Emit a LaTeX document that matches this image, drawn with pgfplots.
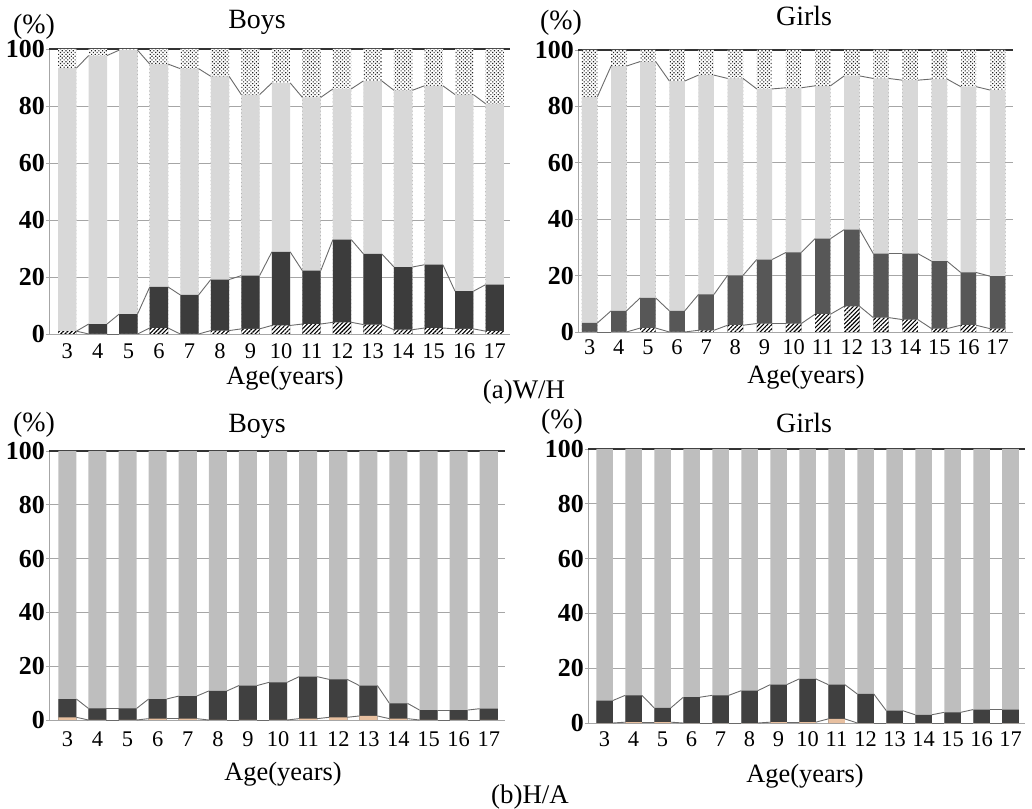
\documentclass[border=0pt]{standalone}
\usepackage{pgfplots}
\usepackage{pgfplotstable}
\pgfplotsset{compat=1.18}
\usetikzlibrary{patterns,patterns.meta}
\usepackage{fontspec}
\setmainfont{Liberation Serif}

\definecolor{axgray}{HTML}{A6A6A6}
\definecolor{lc}{HTML}{6A6A6A}
\definecolor{lgA}{HTML}{D8D8D8}
\definecolor{lgB}{HTML}{BEBEBE}
\definecolor{dkA}{HTML}{3C3C3C}
\definecolor{dkB}{HTML}{575757}
\definecolor{dkC}{HTML}{404040}
\definecolor{peach}{HTML}{E8C0A0}

\newcommand\tf[1]{\fontsize{#1}{#1}\selectfont}

% W/H boys: c1 = top of hatched, c2 = top of dark, c3 = top of light grey
\pgfplotstableread{
x c1 c2 c3
3 1.0 1.0 93.3
4 0 3.5 97.7
5 0 7.0 99.6
6 2.1 16.5 94.7
7 0 13.7 93.1
8 1.2 19.1 90.4
9 1.8 20.5 84.0
10 3.0 28.8 88.1
11 3.5 22.2 83.0
12 4.1 33.1 86.0
13 3.3 28.1 88.8
14 1.5 23.5 85.5
15 2.1 24.3 87.1
16 1.8 15.0 84.0
17 1.0 17.3 80.8
}\tWHb

\pgfplotstableread{
x c1 c2 c3
3 0 3.2 83.4
4 0 7.5 94.3
5 1.4 12.1 95.9
6 0 7.5 89.0
7 0.6 13.3 91.1
8 2.4 20.1 89.9
9 3.0 25.7 86.2
10 3.0 28.2 86.6
11 6.3 33.1 87.3
12 9.1 36.3 90.8
13 5.1 27.8 89.9
14 4.4 27.8 89.3
15 1.2 25.1 89.7
16 2.4 21.1 87.0
17 1.2 19.8 85.8
}\tWHg

\pgfplotstableread{
x c1 c2 c3
3 1.0 7.8 100
4 0 4.3 100
5 0 4.3 100
6 0.5 7.8 100
7 0.5 8.9 100
8 0 10.8 100
9 0 12.8 100
10 0 14.0 100
11 0.5 16.1 100
12 1.0 15.1 100
13 1.5 12.8 100
14 0.5 6.2 100
15 0 3.7 100
16 0 3.7 100
17 0 4.2 100
}\tHAb

\pgfplotstableread{
x c1 c2 c3
3 0 8.2 100
4 0.3 10.1 100
5 0.3 5.5 100
6 0 9.4 100
7 0 10.1 100
8 0 11.8 100
9 0.3 14.0 100
10 0.3 16.1 100
11 1.5 14.0 100
12 0 10.6 100
13 0 4.5 100
14 0 3.0 100
15 0 3.9 100
16 0 4.9 100
17 0 4.9 100
}\tHAg

% series lines joining the tops of a segment from one bar edge to the next
\newcommand\slines[3]{%
  \pgfplotsforeachungrouped \i in {0,...,13}{%
    \pgfmathtruncatemacro\j{\i+1}%
    \pgfplotstablegetelem{\i}{x}\of#1%
    \pgfmathsetmacro\xa{\pgfplotsretval+#3}%
    \pgfplotstablegetelem{\j}{x}\of#1%
    \pgfmathsetmacro\xb{\pgfplotsretval-#3}%
    \pgfplotstablegetelem{\i}{#2}\of#1%
    \let\ya\pgfplotsretval
    \pgfplotstablegetelem{\j}{#2}\of#1%
    \let\yb\pgfplotsretval
    \edef\tmp{\noexpand\addplot[sharp plot,no marks,draw=lc,line width=0.9pt,forget plot] coordinates {(\xa,\ya) (\xb,\yb)};}%
    \tmp
  }%
}

\pgfplotsset{
  panel/.style={
    scale only axis, ybar, bar shift=0pt,
    ymin=0, ymax=100, ytick={0,20,...,100},
    xtick={3,...,17},
    axis x line=bottom, axis y line=left,
    axis line style={-,draw=axgray,line width=0.9pt},
    ymajorgrids, grid style={draw=axgray,line width=0.9pt},
    xtick style={draw=none},
    ytick style={draw=axgray,line width=0.9pt},
    tick align=outside, major tick length=3bp,
    /pgf/number format/assume math mode=true,
    yticklabel style={font=\bfseries\tf{26}, inner sep=1pt},
    xticklabel style={font=\tf{22.5}},
    clip=false,
  },
  hatchbar/.style={fill=white, draw=none, postaction={pattern={Lines[angle=45,distance=3pt,line width=1.1pt]}, pattern color=black}},
  dotbar/.style={fill=white, draw=none, postaction={pattern={Dots[angle=45,distance=2.6pt,radius=0.8pt]}, pattern color=black!85}},
}

\begin{document}
\begin{tikzpicture}
\useasboundingbox (0bp,0bp) rectangle (1032bp,809bp);

% ---------- (a) W/H, Boys ----------
\begin{axis}[panel, at={(49bp,475bp)}, anchor=south west, width=461bp, height=285bp,
  xmin=2.4, xmax=17.5, bar width=0.6, xticklabel style={yshift=-3bp}]
\addplot[sharp plot, draw=black!80, line width=1.2pt, forget plot] coordinates {(2.4,100) (17.5,100)};
\addplot[dotbar] table[x=x, y expr=100] {\tWHb};
\addplot[fill=lgA, draw=none] table[x=x, y=c3] {\tWHb};
\addplot[fill=dkA, draw=none] table[x=x, y=c2] {\tWHb};
\addplot[hatchbar] table[x=x, y=c1] {\tWHb};
\slines{\tWHb}{c1}{0.3}
\slines{\tWHb}{c2}{0.3}
\slines{\tWHb}{c3}{0.3}
\end{axis}

% ---------- (a) W/H, Girls ----------
\begin{axis}[panel, at={(578bp,477bp)}, anchor=south west, width=435bp, height=282bp,
  xmin=2.6, xmax=17.53, bar width=0.53, xticklabel style={yshift=-1bp}]
\addplot[sharp plot, draw=black!80, line width=1.2pt, forget plot] coordinates {(2.6,100) (17.53,100)};
\addplot[dotbar] table[x=x, y expr=100] {\tWHg};
\addplot[fill=lgA, draw=none] table[x=x, y=c3] {\tWHg};
\addplot[fill=dkB, draw=none] table[x=x, y=c2] {\tWHg};
\addplot[hatchbar] table[x=x, y=c1] {\tWHg};
\slines{\tWHg}{c1}{0.265}
\slines{\tWHg}{c2}{0.265}
\slines{\tWHg}{c3}{0.265}
\end{axis}

% ---------- (b) H/A, Boys ----------
\begin{axis}[panel, at={(49bp,89bp)}, anchor=south west, width=456bp, height=269bp,
  xmin=2.39, xmax=17.54, bar width=0.6, xticklabel style={yshift=-5bp}]
\addplot[sharp plot, draw=black!80, line width=1.2pt, forget plot] coordinates {(2.39,100) (17.54,100)};
\addplot[fill=lgB, draw=none] table[x=x, y=c3] {\tHAb};
\addplot[fill=dkC, draw=none] table[x=x, y=c2] {\tHAb};
\addplot[fill=peach, draw=none] table[x=x, y=c1] {\tHAb};
\slines{\tHAb}{c1}{0.3}
\slines{\tHAb}{c2}{0.3}
\end{axis}

% ---------- (b) H/A, Girls ----------
\begin{axis}[panel, at={(588bp,86bp)}, anchor=south west, width=437bp, height=274bp,
  xmin=2.43, xmax=17.5, bar width=0.57, xticklabel style={yshift=-2bp}]
\addplot[sharp plot, draw=black!80, line width=1.2pt, forget plot] coordinates {(2.43,100) (17.5,100)};
\addplot[fill=lgB, draw=none] table[x=x, y=c3] {\tHAg};
\addplot[fill=dkC, draw=none] table[x=x, y=c2] {\tHAg};
\addplot[fill=peach, draw=none] table[x=x, y=c1] {\tHAg};
\slines{\tHAg}{c1}{0.285}
\slines{\tHAg}{c2}{0.285}
\end{axis}

% ---------- texts ----------
\node[font=\tf{28}] at (34bp,782bp) {(\%)};
\node[font=\tf{28}] at (257bp,787bp) {Boys};
\node[font=\tf{26.5}] at (285bp,431bp) {Age(years)};
\node[font=\tf{28}] at (561bp,786bp) {(\%)};
\node[font=\tf{28}] at (804bp,793bp) {Girls};
\node[font=\tf{26.5}] at (806bp,432bp) {Age(years)};
\node[font=\tf{27}] at (524bp,417bp) {(a)W/H};

\node[font=\tf{28}] at (34bp,384bp) {(\%)};
\node[font=\tf{28}] at (257bp,383bp) {Boys};
\node[font=\tf{26.5}] at (283bp,35bp) {Age(years)};
\node[font=\tf{28}] at (562bp,387bp) {(\%)};
\node[font=\tf{28}] at (804bp,386bp) {Girls};
\node[font=\tf{26.5}] at (805bp,33bp) {Age(years)};
\node[font=\tf{27}] at (530bp,12bp) {(b)H/A};
\end{tikzpicture}
\end{document}
